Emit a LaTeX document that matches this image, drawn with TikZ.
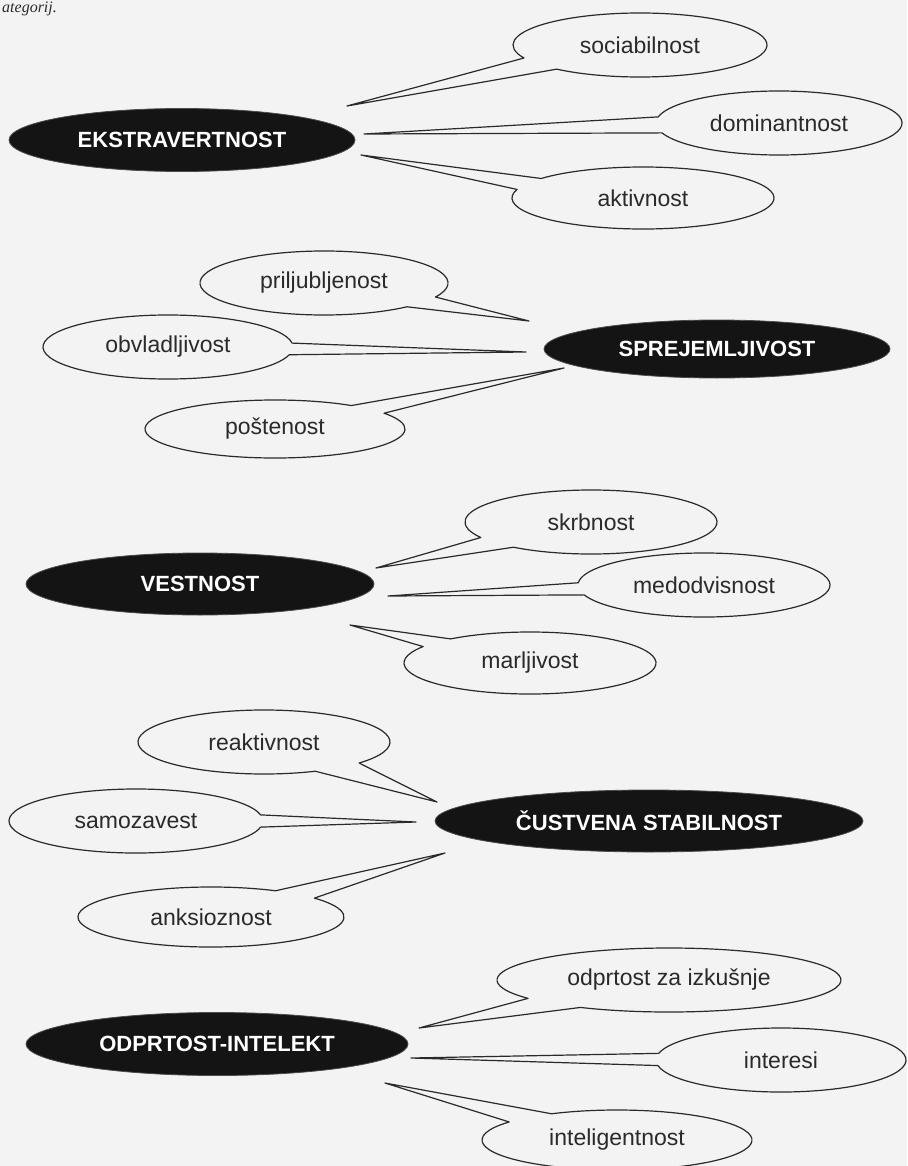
\documentclass[tikz,border=0pt]{standalone}
\usepackage{fontspec}
\setmainfont{Liberation Sans}
\newfontfamily\capfont{Liberation Serif}
\usetikzlibrary{shapes.geometric}
\definecolor{bgcol}{HTML}{F3F3F3}
\definecolor{ink}{HTML}{2A2A2A}
\tikzset{
  bubline/.style={draw=ink, line width=1.2pt, fill=bgcol, line join=round},
  bubtext/.style={inner sep=0pt, text=ink, font=\fontsize{23}{23}\selectfont},
  trait/.style={ellipse, fill=black!92, draw=black!70, line width=0.8pt, inner sep=0pt,
    text=white, font=\fontsize{22}{22}\selectfont\bfseries},
}
% #1 name, #2 centre, #3 rx, #4 ry, #5 a1, #6 a2, #7 tip coordinate, #8 text
\newcommand\bubble[8]{%
  \coordinate (#1c) at #2;
  \draw[bubline] (#1c) ++(#6:#3pt and #4pt)
     arc[start angle=#6, end angle={#5+360}, x radius=#3pt, y radius=#4pt]
     -- (#7) -- cycle;
  \node[bubtext] (#1) at (#1c) {#8};
}
\begin{document}
\begin{tikzpicture}[x=1pt,y=1pt]
\fill[bgcol] (0,0) rectangle (907,-1166);
\useasboundingbox (0,0) rectangle (907,-1166);
\node[anchor=base west, inner sep=0pt, text=ink, font=\capfont\itshape\fontsize{16}{16}\selectfont] (frag) at (2,-13) {ategorij.};

% trait nodes
\node[trait, minimum width=346pt, minimum height=63pt] (ext) at (182,-140) {EKSTRAVERTNOST};
\node[trait, minimum width=346pt, minimum height=58pt] (spr) at (717,-349) {SPREJEMLJIVOST};
\node[trait, minimum width=348pt, minimum height=62pt] (ves) at (200,-584) {VESTNOST};
\node[trait, minimum width=428pt, minimum height=62pt] (cus) at (649,-821) {ČUSTVENA STABILNOST};
\node[trait, minimum width=382pt, minimum height=63pt] (odi) at (217,-1044) {ODPRTOST-INTELEKT};

% tips
\coordinate (t1) at (347,-106);
\coordinate (t2) at (364,-134);
\coordinate (t3) at (361,-155);
\coordinate (t4) at (529,-321);
\coordinate (t5) at (526,-352);
\coordinate (t6) at (564,-368);
\coordinate (t7) at (376,-568);
\coordinate (t8) at (388,-596);
\coordinate (t9) at (350,-625);
\coordinate (t10) at (437,-802);
\coordinate (t11) at (416,-822);
\coordinate (t12) at (445,-853);
\coordinate (t13) at (419,-1028);
\coordinate (t14) at (411,-1058);
\coordinate (t15) at (385,-1083);

\bubble{soc}{(640,-45)}{127}{32}{204}{229}{t1}{sociabilnost}
\bubble{dom}{(779,-123)}{123}{32}{169}{198}{t2}{dominantnost}
\bubble{akt}{(643,-198)}{131}{31}{141}{164}{t3}{aktivnost}
\bubble{pri}{(324,-283)}{124}{32}{312}{334}{t4}{priljubljenost}
\bubble{obv}{(168,-347)}{125}{32}{-14}{7}{t5}{obvladljivost}
\bubble{pos}{(275,-429)}{130}{29}{33}{54}{t6}{poštenost}
\bubble{skr}{(591,-522)}{126}{32}{209}{232}{t7}{skrbnost}
\bubble{med}{(704,-585)}{126}{32}{176}{198}{t8}{medodvisnost}
\bubble{mar}{(530,-663)}{126}{31}{129}{148}{t9}{marljivost}
\bubble{rea}{(264,-742)}{126}{32}{294}{319}{t10}{reaktivnost}
\bubble{sam}{(136,-821)}{127}{32}{-11}{11}{t11}{samozavest}
\bubble{ank}{(211,-917)}{133}{30}{39}{61}{t12}{anksioznost}
\bubble{odp}{(669,-980)}{172}{32}{215}{239}{t13}{odprtost za izkušnje}
\bubble{int}{(781,-1060)}{125}{32}{168}{190}{t14}{interesi}
\bubble{ing}{(617,-1140)}{135}{30}{119}{143}{t15}{inteligentnost}
\end{tikzpicture}
\end{document}
